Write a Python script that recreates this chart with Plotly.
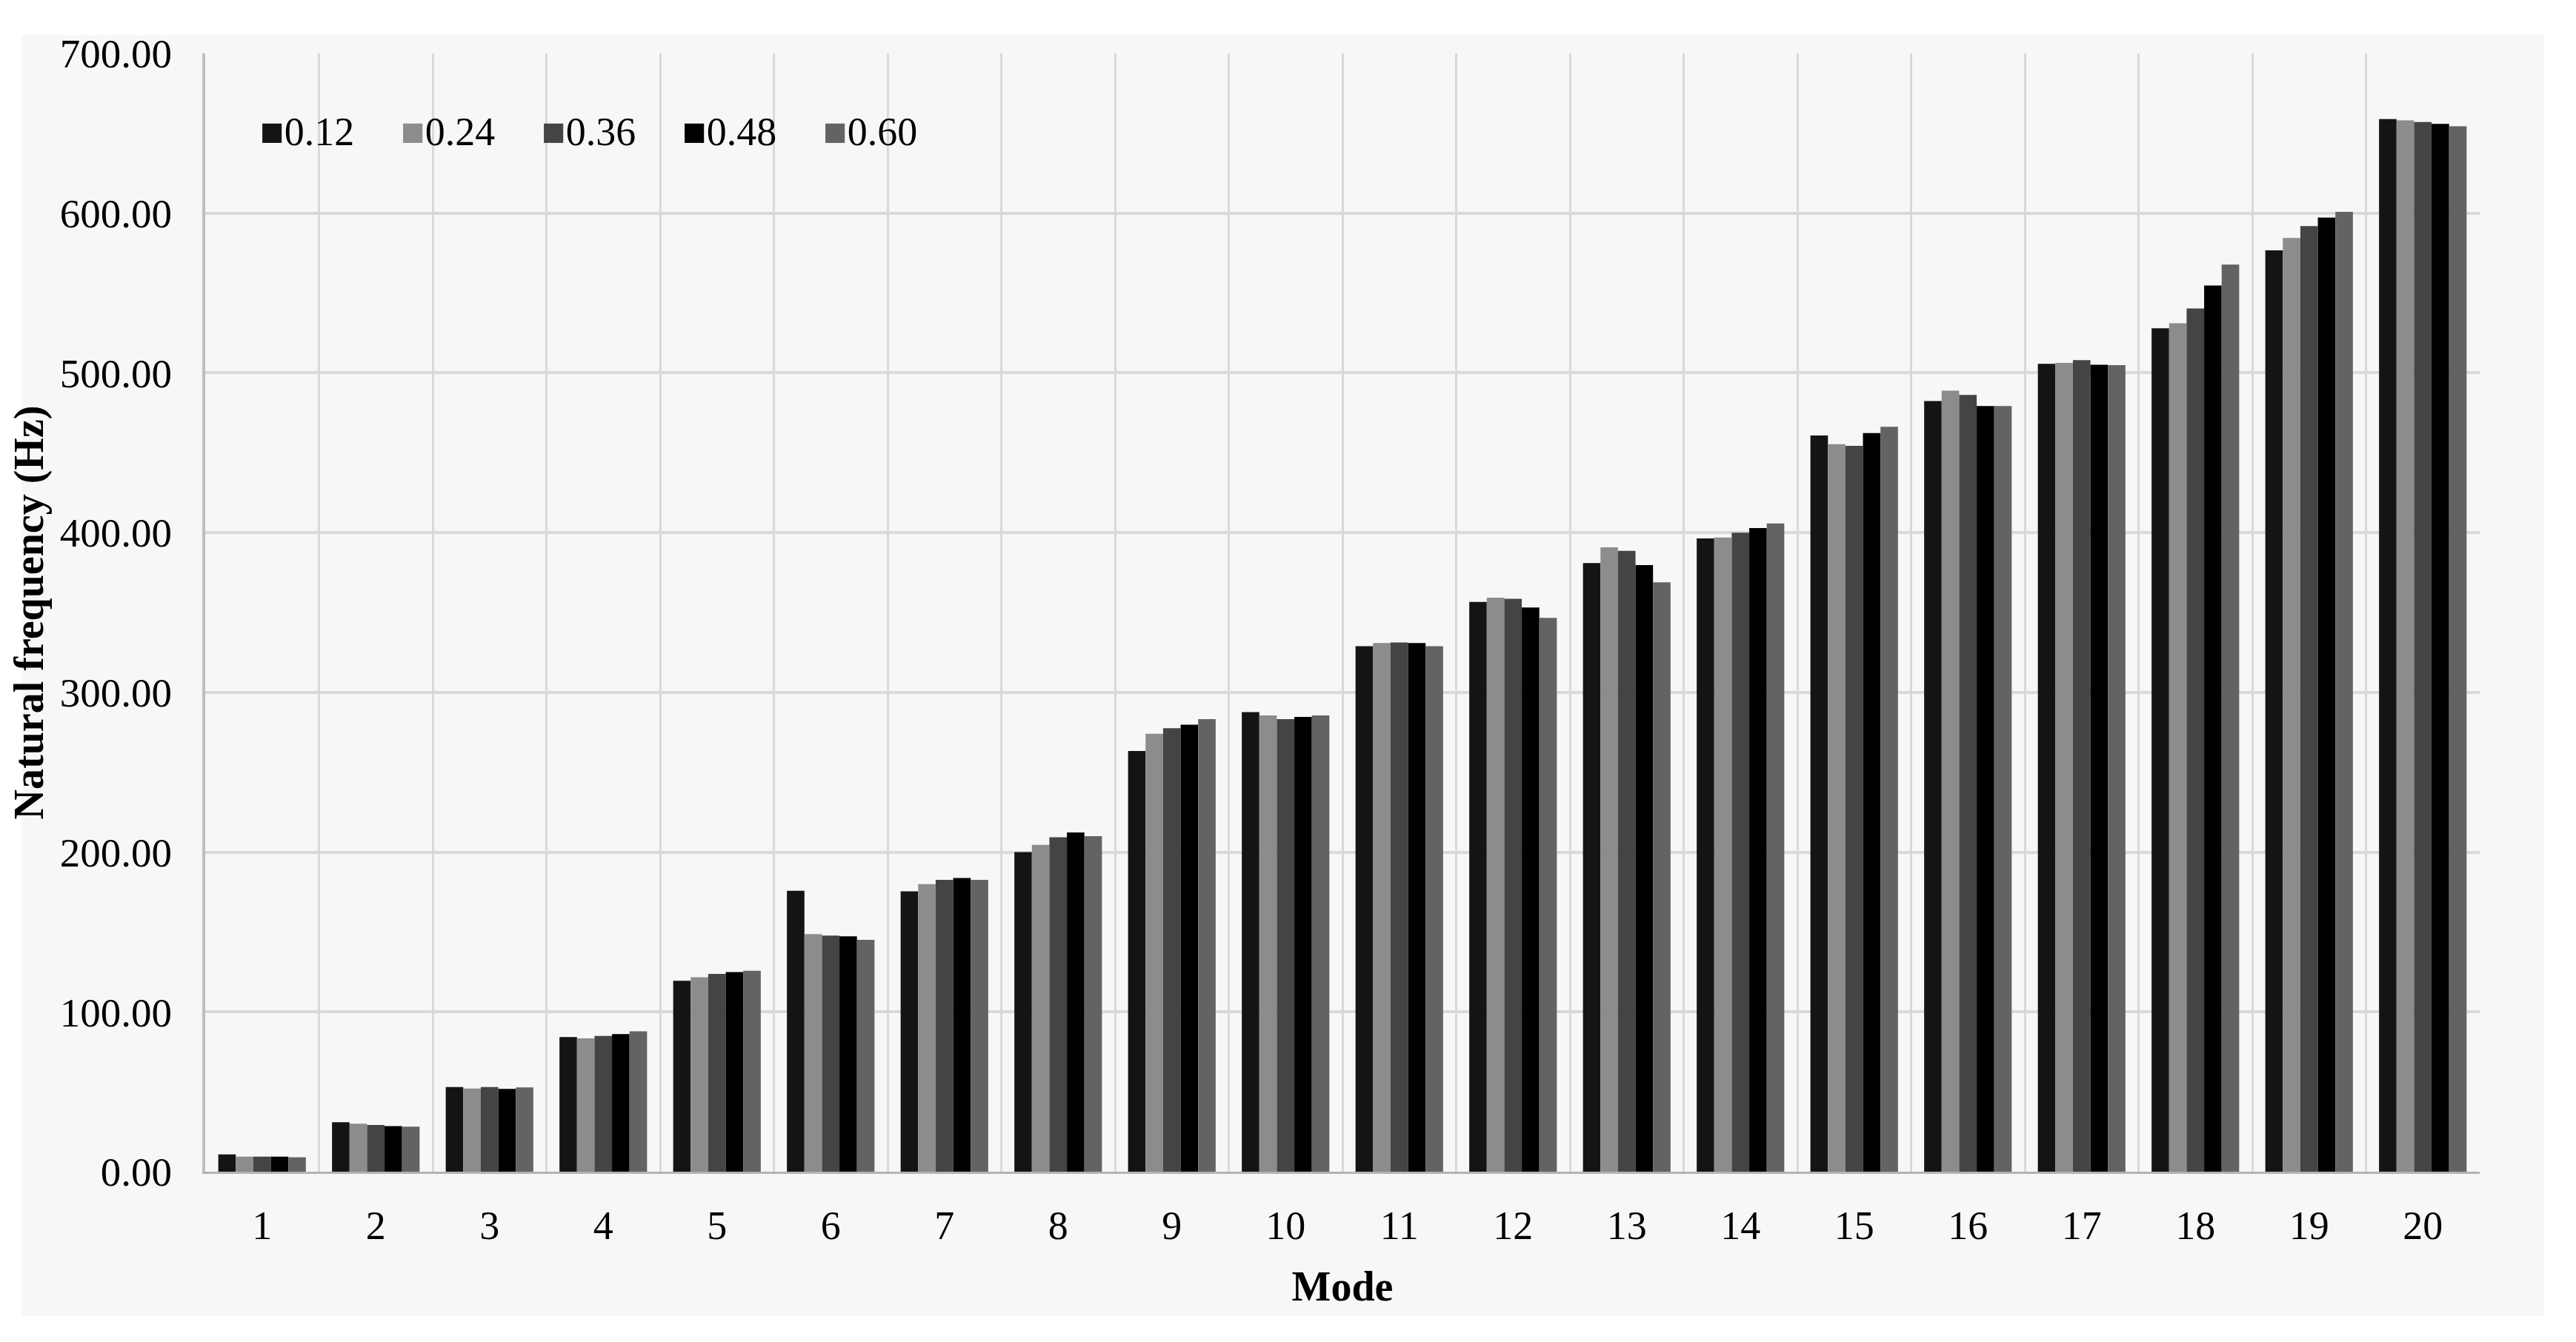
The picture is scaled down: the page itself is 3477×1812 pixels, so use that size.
import plotly.graph_objects as go

# natural frequency (Hz) of the first 20 modes for each parameter value
modes = [str(m) for m in range(1, 21)]
series_names = ["0.12", "0.24", "0.36", "0.48", "0.60"]

freq_012 = [10.8, 31.0, 53.0, 84.3, 119.5, 175.8, 175.5, 200.0, 263.3, 287.7,
            328.9, 356.6, 381.0, 396.3, 460.8, 482.3, 505.7, 527.9, 576.7, 658.9]
freq_024 = [9.4, 30.0, 52.0, 83.4, 121.7, 148.7, 180.0, 204.6, 274.1, 285.6,
            330.9, 359.3, 390.8, 396.9, 455.4, 488.8, 506.2, 531.0, 584.5, 658.1]
freq_036 = [9.4, 29.2, 53.0, 85.0, 123.8, 147.8, 182.7, 209.3, 277.6, 283.3,
            331.2, 358.6, 388.6, 400.0, 454.3, 486.2, 508.0, 540.3, 591.9, 657.0]
freq_048 = [9.4, 28.5, 51.8, 86.1, 124.9, 147.3, 183.8, 212.3, 279.8, 284.6,
            330.9, 353.1, 379.7, 402.8, 462.3, 479.2, 505.1, 554.7, 597.2, 655.8]
freq_060 = [9.0, 28.2, 52.7, 87.9, 125.8, 145.1, 182.6, 210.0, 283.3, 285.6,
            328.9, 346.6, 368.9, 405.8, 466.2, 479.2, 504.8, 567.8, 600.8, 654.3]

y_ticks = [0, 100, 200, 300, 400, 500, 600, 700]

all_series = [freq_012, freq_024, freq_036, freq_048, freq_060]
colors = ["#141414", "#8c8c8c", "#444444", "#000000", "#636363"]

FONT = "Liberation Serif, Times New Roman, serif"

# plot area size in px (page body adds an 8px margin, so the figure is a bit smaller)
PLOT_W, PLOT_H = 3070, 1510
M_L, M_T = 269, 64

fig = go.Figure()
for name, vals, col in zip(series_names, all_series, colors):
    fig.add_trace(go.Bar(
        x=modes, y=vals, name=name,
        marker=dict(color=col, line=dict(width=0)),
        showlegend=False,
    ))

# Excel-style legend: big square glyph right against the label
legend_notes = []
for i, (name, col) in enumerate(zip(series_names, colors)):
    legend_notes.append(dict(
        xref="paper", yref="paper",
        x=(72 + i * 190) / PLOT_W, y=0.93,
        xanchor="left", yanchor="middle",
        text=f"<span style='color:{col}'>■</span>{name}",
        showarrow=False,
        font=dict(family=FONT, size=54, color="#000000"),
    ))

fig.update_layout(
    width=3461,
    height=1796,
    margin=dict(l=M_L, r=3461 - M_L - PLOT_W, t=M_T, b=1796 - M_T - PLOT_H),
    paper_bgcolor="white",
    plot_bgcolor="#f7f7f7",
    barmode="group",
    bargap=0.23,
    bargroupgap=0,
    font=dict(family=FONT, size=54, color="#000000"),
    annotations=legend_notes,
    # grey chart-area backdrop with a thin white frame, like the original
    shapes=[dict(
        type="rect", xref="paper", yref="paper",
        x0=-0.0805, x1=1.0283, y0=-0.129, y1=1.0166,
        fillcolor="#f7f7f7", line=dict(width=0), layer="below",
    )],
)

fig.update_xaxes(
    type="category",
    tickson="boundaries",
    showgrid=True, gridcolor="#d9d9d9", gridwidth=3,
    showline=True, linecolor="#b3b3b3", linewidth=3,
    ticks="", ticklabelstandoff=23,
    tickfont=dict(family=FONT, size=54),
    title=dict(text="<b>Mode</b>", font=dict(family=FONT, size=56), standoff=34),
    automargin=False,
)
fig.update_yaxes(
    range=[0, 700],
    tickvals=y_ticks,
    tickformat=".2f",
    showgrid=True, gridcolor="#d9d9d9", gridwidth=4,
    showline=True, linecolor="#bfbfbf", linewidth=4,
    zeroline=False,
    ticks="", ticklabelstandoff=30,
    tickfont=dict(family=FONT, size=55),
    title=dict(text="<b>Natural frequency (Hz)</b>", font=dict(family=FONT, size=56), standoff=14),
    automargin=False,
)

fig.write_html("out.html")
